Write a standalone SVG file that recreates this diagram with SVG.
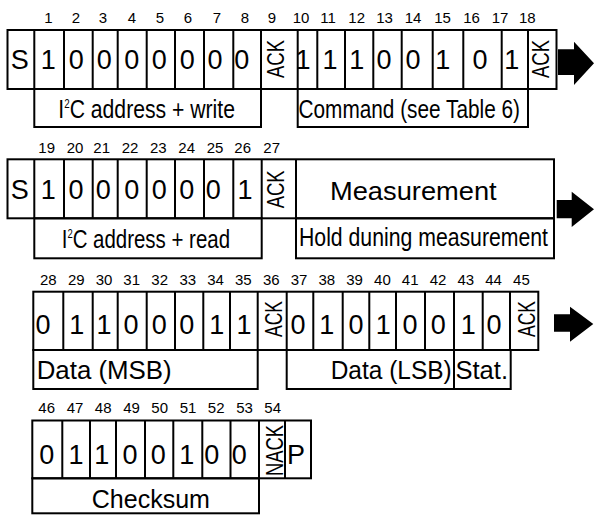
<svg xmlns="http://www.w3.org/2000/svg" width="594" height="515" viewBox="0 0 594 515">
  <style>
    .ln { fill: none; stroke: #000; stroke-width: 2; }
    text { font-family: "Liberation Sans", Arial, sans-serif; fill: #000; }
    .num { font-size: 15px; text-anchor: middle; }
    .bit { font-size: 27px; text-anchor: middle; }
    .lbl { font-size: 26px; }
    .vert { font-size: 23px; }
    .sup { font-size: 12px; }
    .arrow { fill: #000; }
  </style>

  <!-- Frame 1: start, address + write, ACK, command, ACK -->
  <g id="frame-write">
    <g class="num">
      <text x="48.3" y="23.3">1</text><text x="76" y="23.3">2</text><text x="103" y="23.3">3</text>
      <text x="132" y="23.3">4</text><text x="160" y="23.3">5</text><text x="188" y="23.3">6</text>
      <text x="217" y="23.3">7</text><text x="245" y="23.3">8</text><text x="272" y="23.3">9</text>
      <text x="301" y="23.3">10</text><text x="328" y="23.3">11</text><text x="356.7" y="23.3">12</text>
      <text x="384.5" y="23.3">13</text><text x="413" y="23.3">14</text><text x="442.5" y="23.3">15</text>
      <text x="471.5" y="23.3">16</text><text x="500" y="23.3">17</text><text x="527.3" y="23.3">18</text>
    </g>
    <rect class="ln" x="7.5" y="30" width="549" height="59"/>
    <path class="ln" d="M34.3 30V89M64 30V89M92.7 30V89M117.7 30V89M146.7 30V89M175 30V89M204 30V89M233.3 30V89M261 30V89M297.7 30V89M317.3 30V89M345 30V89M373.3 30V89M401.7 30V89M432.7 30V89M463.3 30V89M501.7 30V89M528 30V89"/>
    <rect class="ln" x="34.3" y="89" width="226.7" height="38"/>
    <rect class="ln" x="297.7" y="89" width="230.3" height="38"/>
    <g class="bit">
      <text x="19.7" y="69">S</text>
      <text x="48.3" y="69">1</text><text x="76.3" y="69">0</text><text x="104.3" y="69">0</text>
      <text x="131.7" y="69">0</text><text x="159.3" y="69">0</text><text x="187.3" y="69">0</text>
      <text x="215" y="69">0</text><text x="241.7" y="69">0</text>
      <text x="303" y="69">1</text><text x="330" y="69">1</text><text x="356.7" y="69">1</text>
      <text x="384" y="69">0</text><text x="413" y="69">0</text><text x="442.7" y="69">1</text>
      <text x="480" y="69">0</text><text x="511.7" y="69">1</text>
    </g>
    <text class="vert" transform="translate(283.5 78) rotate(-90)" textLength="38" lengthAdjust="spacingAndGlyphs">ACK</text>
    <text class="vert" transform="translate(548.5 78) rotate(-90)" textLength="38" lengthAdjust="spacingAndGlyphs">ACK</text>
    <text class="lbl" x="58.3" y="118.3" textLength="176.7" lengthAdjust="spacingAndGlyphs">I<tspan class="sup" dy="-10">2</tspan><tspan dy="10">C address + write</tspan></text>
    <text class="lbl" x="298.5" y="118.3" textLength="221.5" lengthAdjust="spacingAndGlyphs">Command (see Table 6)</text>
  </g>

  <!-- Frame 2: repeated start, address + read, ACK, measurement hold -->
  <g id="frame-read">
    <g class="num">
      <text x="46.7" y="152.7">19</text><text x="75" y="152.7">20</text><text x="101.7" y="152.7">21</text>
      <text x="130" y="152.7">22</text><text x="158.3" y="152.7">23</text><text x="186.7" y="152.7">24</text>
      <text x="215" y="152.7">25</text><text x="242.7" y="152.7">26</text><text x="271.7" y="152.7">27</text>
    </g>
    <rect class="ln" x="7.5" y="159.3" width="546.5" height="59"/>
    <path class="ln" d="M34.3 159.3V218.3M64 159.3V218.3M92.7 159.3V218.3M117.7 159.3V218.3M146.7 159.3V218.3M175 159.3V218.3M204 159.3V218.3M233.3 159.3V218.3M261.7 159.3V218.3M296 159.3V218.3"/>
    <rect class="ln" x="34.3" y="218.3" width="227.4" height="40"/>
    <rect class="ln" x="296" y="218.3" width="258" height="40"/>
    <g class="bit">
      <text x="19.7" y="198.5">S</text>
      <text x="48.3" y="198.5">1</text><text x="76" y="198.5">0</text><text x="103.3" y="198.5">0</text>
      <text x="131.7" y="198.5">0</text><text x="159.3" y="198.5">0</text><text x="186.7" y="198.5">0</text>
      <text x="213.3" y="198.5">0</text><text x="245" y="198.5">1</text>
    </g>
    <text class="vert" transform="translate(283.5 208.3) rotate(-90)" textLength="38" lengthAdjust="spacingAndGlyphs">ACK</text>
    <text class="lbl" x="330" y="200" textLength="166.7" lengthAdjust="spacingAndGlyphs">Measurement</text>
    <text class="lbl" x="61.7" y="247.5" textLength="168.3" lengthAdjust="spacingAndGlyphs">I<tspan class="sup" dy="-10">2</tspan><tspan dy="10">C address + read</tspan></text>
    <text class="lbl" x="299" y="246" font-size="25" textLength="249" lengthAdjust="spacingAndGlyphs">Hold duning measurement</text>
  </g>

  <!-- Frame 3: data MSB, ACK, data LSB + status, ACK -->
  <g id="frame-data">
    <g class="num">
      <text x="48.3" y="285">28</text><text x="76.3" y="285">29</text><text x="104" y="285">30</text>
      <text x="131.7" y="285">31</text><text x="159.7" y="285">32</text><text x="187.8" y="285">33</text>
      <text x="215.5" y="285">34</text><text x="243.3" y="285">35</text><text x="271.3" y="285">36</text>
      <text x="299" y="285">37</text><text x="326.8" y="285">38</text><text x="354.6" y="285">39</text>
      <text x="382.4" y="285">40</text><text x="410.2" y="285">41</text><text x="438" y="285">42</text>
      <text x="465.8" y="285">43</text><text x="493.6" y="285">44</text><text x="521.4" y="285">45</text>
    </g>
    <rect class="ln" x="33.3" y="291.7" width="505" height="58.3"/>
    <path class="ln" d="M63.3 291.7V350M92.7 291.7V350M117.7 291.7V350M146.7 291.7V350M175 291.7V350M203.3 291.7V350M230 291.7V350M257.7 291.7V350M286.7 291.7V350M313.3 291.7V350M342.7 291.7V350M369.3 291.7V350M396 291.7V350M425 291.7V350M454 291.7V350M482.7 291.7V350M510 291.7V350"/>
    <rect class="ln" x="33.3" y="350" width="224.4" height="39"/>
    <rect class="ln" x="286.7" y="350" width="167.3" height="39"/>
    <rect class="ln" x="454" y="350" width="56.7" height="39"/>
    <g class="bit">
      <text x="43" y="334">0</text><text x="76.7" y="334">1</text><text x="104" y="334">1</text>
      <text x="131" y="334">0</text><text x="159.3" y="334">0</text><text x="186.7" y="334">0</text>
      <text x="216.7" y="334">1</text><text x="244" y="334">1</text>
      <text x="298" y="334">0</text><text x="326.7" y="334">1</text><text x="356" y="334">0</text>
      <text x="383.3" y="334">1</text><text x="410" y="334">0</text><text x="438.3" y="334">0</text>
      <text x="468.3" y="334">1</text><text x="494" y="334">0</text>
    </g>
    <text class="vert" transform="translate(282 337) rotate(-90)" textLength="36" lengthAdjust="spacingAndGlyphs">ACK</text>
    <text class="vert" transform="translate(535.3 337) rotate(-90)" textLength="36" lengthAdjust="spacingAndGlyphs">ACK</text>
    <text class="lbl" x="36.7" y="379" textLength="135" lengthAdjust="spacingAndGlyphs">Data (MSB)</text>
    <text class="lbl" x="330.7" y="379" textLength="121" lengthAdjust="spacingAndGlyphs">Data (LSB)</text>
    <text class="lbl" x="455.5" y="379" textLength="52.5" lengthAdjust="spacingAndGlyphs">Stat.</text>
  </g>

  <!-- Frame 4: checksum, NACK, stop -->
  <g id="frame-checksum">
    <g class="num">
      <text x="46.7" y="413.3">46</text><text x="75" y="413.3">47</text><text x="103.2" y="413.3">48</text>
      <text x="131.5" y="413.3">49</text><text x="159.7" y="413.3">50</text><text x="188" y="413.3">51</text>
      <text x="216.2" y="413.3">52</text><text x="244.5" y="413.3">53</text><text x="272.7" y="413.3">54</text>
    </g>
    <rect class="ln" x="32.3" y="420.5" width="278.7" height="57.8"/>
    <path class="ln" d="M62.3 420.5V478.3M90 420.5V478.3M116 420.5V478.3M145 420.5V478.3M173.3 420.5V478.3M202.3 420.5V478.3M230.5 420.5V478.3M259 420.5V478.3M285 420.5V478.3"/>
    <rect class="ln" x="32.3" y="478.3" width="226.7" height="35"/>
    <g class="bit">
      <text x="46.7" y="463.5">0</text><text x="76" y="463.5">1</text><text x="101.7" y="463.5">1</text>
      <text x="130" y="463.5">0</text><text x="158.3" y="463.5">0</text><text x="186.7" y="463.5">1</text>
      <text x="211.7" y="463.5">0</text><text x="239.3" y="463.5">0</text>
      <text x="296" y="463.5">P</text>
    </g>
    <text class="vert" transform="translate(283 476) rotate(-90)" textLength="51" lengthAdjust="spacingAndGlyphs">NACK</text>
    <text class="lbl" x="91.7" y="508.3" textLength="118.3" lengthAdjust="spacingAndGlyphs">Checksum</text>
  </g>

  <!-- Continuation arrows between frames -->
  <g id="connectors">
    <polygon class="arrow" points="558,49.3 574,49.3 574,41.7 594,63.3 574,85 574,75 558,75"/>
    <polygon class="arrow" points="556.7,200 571.7,200 571.7,191.7 594,209.3 571.7,227 571.7,218.3 556.7,218.3"/>
    <polygon class="arrow" points="554,314.3 570,314.3 570,306.7 593.3,324 570,341.7 570,331.7 554,331.7"/>
  </g>
</svg>
